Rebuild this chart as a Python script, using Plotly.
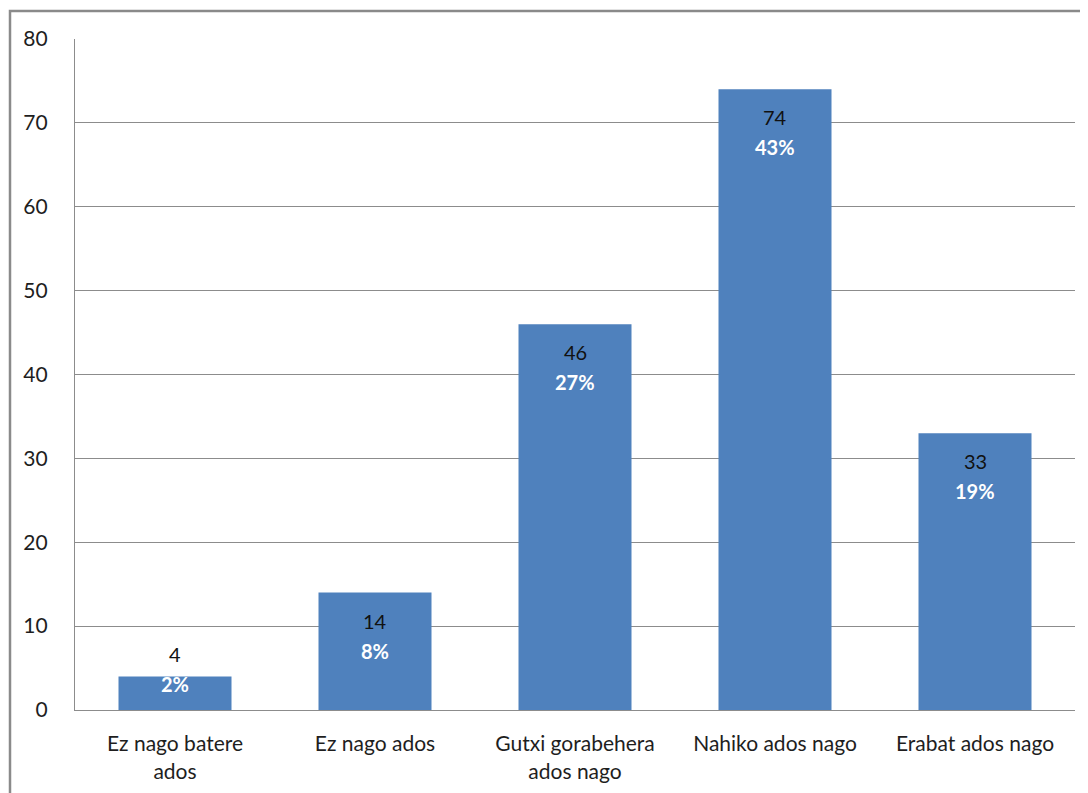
import plotly.graph_objects as go

categories = ["Ez nago batere<br>ados", "Ez nago ados", "Gutxi gorabehera<br>ados nago",
              "Nahiko ados nago", "Erabat ados nago"]
values = [4, 14, 46, 74, 33]
percents = ["2%", "8%", "27%", "43%", "19%"]

BAR = "#4F81BD"
GRID = "#8C8C8C"
FONT = "Lato, 'Open Sans', sans-serif"

fig = go.Figure(go.Bar(x=categories, y=values, marker=dict(color=BAR, line=dict(width=0)),
                       width=0.565, hoverinfo="skip"))

plot_h = 671
px_per_unit = plot_h / 80.0
for c, v, p in zip(categories, values, percents):
    h = v * px_per_unit
    off = min(28, h - 56)
    fig.add_annotation(x=c, y=v, text=str(v), showarrow=False, yanchor="middle",
                       yshift=-off, font=dict(family=FONT, size=20, color="#111111"))
    fig.add_annotation(x=c, y=v, text="<b>" + p + "</b>", showarrow=False, yanchor="middle",
                       yshift=-(off + 30), font=dict(family=FONT, size=20, color="white"))

fig.add_shape(type="rect", xref="paper", yref="paper", x0=-0.065, x1=1.03, y0=-0.2, y1=1.0417,
              line=dict(color="#8A8A8A", width=2.5), fillcolor="rgba(0,0,0,0)", layer="below")

fig.update_layout(
    width=1080, height=785,
    margin=dict(l=67, r=13, t=31, b=83),
    paper_bgcolor="white", plot_bgcolor="white",
    showlegend=False, bargap=0.435,
    font=dict(family=FONT, size=21, color="#1E1E1E"),
)
fig.update_xaxes(showgrid=False, showline=True, linecolor=GRID, linewidth=1.2, automargin=False,
                 ticks="", ticklabelstandoff=15, tickfont=dict(size=21))
fig.update_yaxes(range=[0, 80], dtick=10, showgrid=True, gridcolor=GRID, gridwidth=1,
                 showline=True, linecolor=GRID, linewidth=1.2, zeroline=False, automargin=False,
                 ticks="", ticklabelstandoff=22, tickfont=dict(size=21))

fig.write_html("out.html")
